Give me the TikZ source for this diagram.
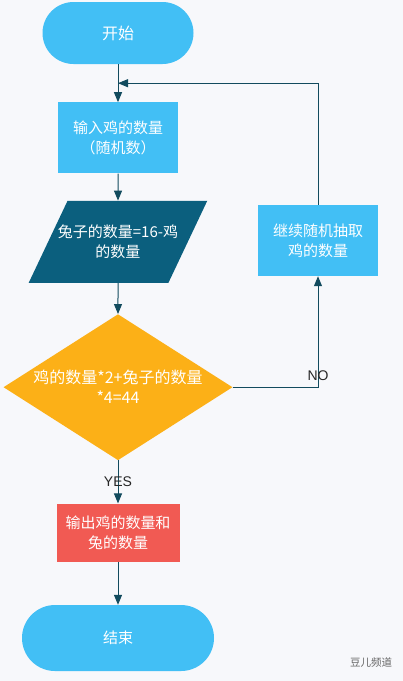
\documentclass[tikz,border=0pt]{standalone}
\usepackage{fontspec}
\setmainfont{Liberation Sans}
\newfontfamily\cjk{Noto Sans CJK SC}
\usepackage{xcolor}
\usetikzlibrary{shapes.geometric, arrows.meta, positioning}

\definecolor{skyblue}{HTML}{42BFF5}
\definecolor{deepteal}{HTML}{0B5F7E}
\definecolor{amber}{HTML}{FCB017}
\definecolor{coral}{HTML}{F15A53}
\definecolor{linecol}{HTML}{124B5E}
\definecolor{pagebg}{HTML}{F7F8FB}

\begin{document}
\begin{tikzpicture}[
    x=1pt, y=-1pt,
    every node/.style={font=\cjk\fontsize{15}{20}\selectfont, text=white, align=center, inner sep=0pt},
    term/.style={rectangle, fill=skyblue},
    proc/.style={rectangle, minimum width=120pt, minimum height=71pt},
    io/.style={trapezium, trapezium left angle=64, trapezium right angle=116, trapezium stretches=true, inner ysep=21pt, inner xsep=-12pt, fill=deepteal, minimum width=179pt, minimum height=82pt},
    decision/.style={diamond, fill=amber, minimum width=229pt, minimum height=146pt},
    arrow/.style={-{Triangle[length=10pt, width=8pt]}, linecol, line width=1pt},
    tag/.style={font=\fontsize{14}{16}\selectfont, text=black!85}
]

\fill[pagebg] (0,0) rectangle (403,681);
\useasboundingbox (0,0) rectangle (403,681);

\node[term, rounded corners=31pt, minimum width=151pt, minimum height=62pt, font=\cjk\fontsize{16}{20}\selectfont] (start) at (118,33) {开始};
\node[proc, fill=skyblue, below=38pt of start] (input) {输入鸡的数量\\（随机数）};
\node[io, below=27pt of input] (rabbit) {兔子的数量=16-鸡\\的数量};
\node[decision, below=31pt of rabbit, label={[font=\cjk\fontsize{16}{20}\selectfont]center:{鸡的数量*2+兔子的数量\\*4=44}}] (check) {};
\node[proc, fill=coral, minimum width=123pt, minimum height=58pt, below=43pt of check] (output) {输出鸡的数量和\\兔的数量};
\node[term, rounded corners=33pt, minimum width=192pt, minimum height=66pt, below=43pt of output] (stop) {结束};
\node[proc, fill=skyblue, text width=110pt] (retry) at (318,240.5) {继续随机抽取\\鸡的数量};

\node[text=gray!80!black, font=\cjk\fontsize{10.5}{12}\selectfont] (mark) at (371,662) {豆儿频道};

\path (start.south) -- (input.north) coordinate[midway] (merge);

\draw[arrow] (start) -- (input);
\draw[arrow] (input) -- (rabbit);
\draw[arrow] (rabbit) -- (check);
\draw[arrow] (check) -- node[tag] {YES} (output);
\draw[arrow] (output) -- (stop);
\draw[arrow] (check) -| node[tag, pos=0.5, above=6pt] {NO} (retry);
\draw[arrow] (retry) |- (merge);

\end{tikzpicture}
\end{document}
